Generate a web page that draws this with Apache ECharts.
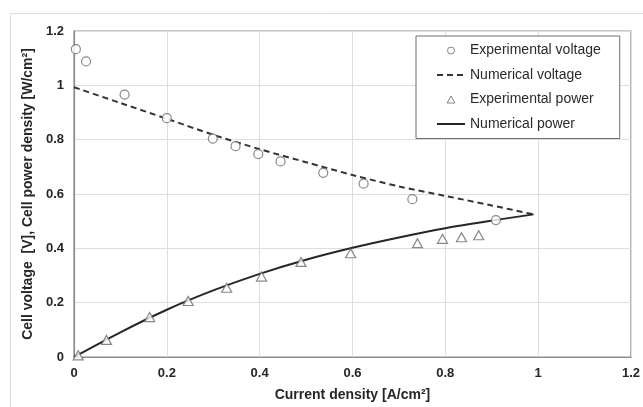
<!DOCTYPE html>
<html>
<head>
<meta charset="utf-8">
<script src="https://cdn.jsdelivr.net/npm/echarts@6/dist/echarts.min.js"></script>
<style>
  html, body { margin: 0; padding: 0; background: #fff; }
  #chart { width: 643px; height: 407px; }
</style>
</head>
<body>
<div id="chart"></div>
<script>
var expVoltX = [0.004, 0.026, 0.109, 0.200, 0.299, 0.348, 0.397, 0.445, 0.537, 0.624, 0.729, 0.909]
var expVoltY = [1.133, 1.088, 0.966, 0.879, 0.804, 0.776, 0.747, 0.720, 0.678, 0.638, 0.581, 0.504]
var expPowerX = [0.009, 0.070, 0.163, 0.246, 0.329, 0.404, 0.489, 0.596, 0.740, 0.794, 0.835, 0.872]
var expPowerY = [0.006, 0.063, 0.147, 0.206, 0.255, 0.296, 0.350, 0.382, 0.419, 0.435, 0.441, 0.448]
var numX = [0, 0.1, 0.2, 0.3, 0.4, 0.5, 0.6, 0.7, 0.8, 0.9, 0.99]
var numVolt = [0.993, 0.935, 0.877, 0.818, 0.765, 0.717, 0.670, 0.628, 0.593, 0.558, 0.525]
var numPower = [0, 0.091, 0.174, 0.245, 0.306, 0.358, 0.402, 0.440, 0.474, 0.502, 0.525]

function pairs(xs, ys) {
  return xs.map(function (x, i) { return [x, ys[i]] })
}

var tickFont = { fontFamily: 'Liberation Sans, Arial', fontWeight: 'bold', fontSize: 13, color: '#262626' }
var nameFont = { fontFamily: 'Liberation Sans, Arial', fontWeight: 'bold', fontSize: 14, color: '#262626' }
var hollow = { color: '#fff', borderColor: '#666', borderWidth: 1 }
var noMark = { color: 'rgba(0,0,0,0)', borderWidth: 0, opacity: 0 }

var chart = echarts.init(document.getElementById('chart'))
chart.setOption({
  animation: false,
  backgroundColor: '#fff',
  graphic: [
    { type: 'line', shape: { x1: 10.5, y1: 13.5, x2: 643, y2: 13.5 }, style: { stroke: '#dcdcdc', lineWidth: 1 } },
    { type: 'line', shape: { x1: 10.5, y1: 13.5, x2: 10.5, y2: 407 }, style: { stroke: '#dcdcdc', lineWidth: 1 } }
  ],
  grid: {
    left: 74,
    top: 31,
    right: 10,
    bottom: 48,
    show: true,
    borderColor: '#8c8c8c',
    borderWidth: 1.2
  },
  legend: {
    left: 416,
    top: 36,
    orient: 'vertical',
    backgroundColor: '#fff',
    borderColor: '#6e6e6e',
    borderWidth: 1,
    borderRadius: 0,
    padding: [7, 19, 7, 20],
    itemWidth: 28,
    itemHeight: 7,
    itemGap: 9.5,
    symbolKeepAspect: true,
    textStyle: { fontFamily: 'Liberation Sans, Arial', fontSize: 14, color: '#2a2a2a', lineHeight: 15 },
    data: [
      { name: 'Experimental voltage', icon: 'circle', itemStyle: hollow },
      { name: 'Numerical voltage', itemStyle: noMark },
      { name: 'Experimental power', icon: 'path://M5,0L10,9L0,9Z', itemStyle: hollow },
      { name: 'Numerical power', itemStyle: noMark }
    ]
  },
  xAxis: {
    type: 'value',
    min: 0,
    max: 1.2,
    interval: 0.2,
    name: 'Current density [A/cm²]',
    nameLocation: 'middle',
    nameGap: 31,
    nameTextStyle: nameFont,
    axisLine: { lineStyle: { color: '#8c8c8c', width: 1.2 } },
    axisTick: { show: false },
    axisLabel: Object.assign({ margin: 10 }, tickFont),
    splitLine: { lineStyle: { color: '#dedede', width: 1 } }
  },
  yAxis: {
    type: 'value',
    min: 0,
    max: 1.2,
    interval: 0.2,
    name: 'Cell voltage  [V], Cell power density [W/cm²]',
    nameLocation: 'middle',
    nameGap: 34,
    nameTextStyle: nameFont,
    axisLine: { show: true, lineStyle: { color: '#8c8c8c', width: 1.2 } },
    axisTick: { show: false },
    axisLabel: Object.assign({ margin: 10 }, tickFont),
    splitLine: { lineStyle: { color: '#dedede', width: 1 } }
  },
  series: [
    {
      name: 'Experimental voltage',
      type: 'scatter',
      symbol: 'circle',
      symbolSize: 9,
      itemStyle: { color: '#fff', borderColor: '#6a6a6a', borderWidth: 1.2 },
      data: pairs(expVoltX, expVoltY),
      z: 5
    },
    {
      name: 'Numerical voltage',
      type: 'line',
      symbol: 'none',
      smooth: 0.3,
      lineStyle: { color: '#333', width: 2, type: [6, 4] },
      itemStyle: { color: '#333' },
      data: pairs(numX, numVolt)
    },
    {
      name: 'Experimental power',
      type: 'scatter',
      symbol: 'triangle',
      symbolSize: [10, 9],
      itemStyle: { color: '#fff', borderColor: '#6a6a6a', borderWidth: 1.2 },
      data: pairs(expPowerX, expPowerY),
      z: 5
    },
    {
      name: 'Numerical power',
      type: 'line',
      symbol: 'none',
      smooth: 0.3,
      lineStyle: { color: '#262626', width: 2 },
      itemStyle: { color: '#262626' },
      data: pairs(numX, numPower)
    }
  ]
})
</script>
</body>
</html>
